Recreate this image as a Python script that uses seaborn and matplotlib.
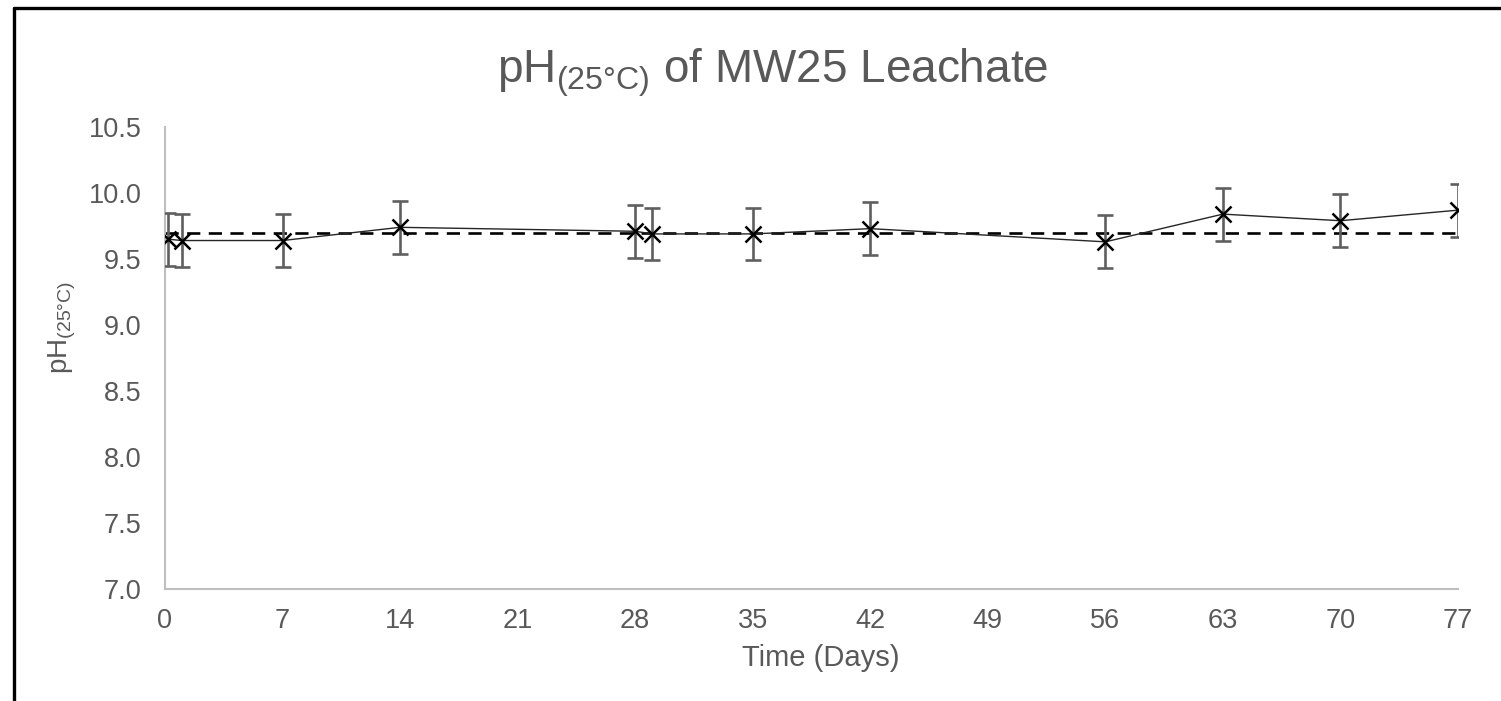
import matplotlib
matplotlib.use('Agg')
import matplotlib.pyplot as plt
import seaborn as sns
import pandas as pd
from matplotlib.lines import Line2D

# pH of MW25 leachate over time
days = [0.2, 1, 7, 14, 28, 29, 35, 42, 56, 63, 70, 77]
ph = [9.65, 9.64, 9.64, 9.74, 9.71, 9.69, 9.69, 9.73, 9.63, 9.84, 9.79, 9.87]
ph_err = [0.2] * 12
mean_ph = 9.70

x_ticks = list(range(0, 78, 7))
y_ticks = [7.0, 7.5, 8.0, 8.5, 9.0, 9.5, 10.0, 10.5]

df = pd.DataFrame({'day': days, 'ph': ph, 'err': ph_err})

sns.set_style('white')
plt.rcParams['font.family'] = ['Liberation Sans', 'DejaVu Sans']
plt.rcParams['mathtext.fontset'] = 'custom'
plt.rcParams['mathtext.rm'] = 'Liberation Sans'
plt.rcParams['mathtext.it'] = 'Liberation Sans:italic'
plt.rcParams['mathtext.default'] = 'regular'

grey = '#595959'

fig = plt.figure(figsize=(15.01, 7.01), dpi=100)
ax = fig.add_axes([165 / 1501, 1 - 589 / 701, 1293 / 1501, 462 / 701])

# 평균선
ax.axhline(mean_ph, color='black', lw=1.9, linestyle=(0, (5, 3.2)), zorder=2)

ax.errorbar(df['day'], df['ph'], yerr=df['err'], fmt='none', ecolor='#5f5f5f',
            elinewidth=1.9, capsize=6, capthick=1.9, zorder=3)

sns.lineplot(data=df, x='day', y='ph', ax=ax, color='#262626', lw=1.0,
             marker='x', markersize=11, markeredgewidth=1.8,
             markeredgecolor='black', zorder=4)

ax.set_xlim(0, 77)
ax.set_ylim(7.0, 10.5)
ax.set_xticks(x_ticks)
ax.set_yticks(y_ticks)
ax.set_yticklabels([f'{v:.1f}' for v in y_ticks])
ax.tick_params(axis='both', length=0, labelsize=19.5, labelcolor=grey)
ax.tick_params(axis='y', pad=17)
ax.tick_params(axis='x', pad=14)

for s in ['top', 'right']:
    ax.spines[s].set_visible(False)
for s in ['left', 'bottom']:
    ax.spines[s].set_color('#bfbfbf')
    ax.spines[s].set_linewidth(1.5)

ax.set_xlabel('Time (Days)', fontsize=21, color=grey)
ax.xaxis.set_label_coords(0.507, -0.118)
ax.set_ylabel(r'pH$_{(25°C)}$', fontsize=20, color=grey)
ax.yaxis.set_label_coords(-0.067, 0.565)

fig.text(0.515, 1 - 73 / 701, r'pH$_{(25°C)}$ of MW25 Leachate', fontsize=33,
         color=grey, ha='center', va='center')

# 바깥 테두리 (위, 왼쪽)
fig.add_artist(Line2D([13.5 / 1501, 1], [1 - 7.5 / 701, 1 - 7.5 / 701],
                      transform=fig.transFigure, color='black', lw=2.4))
fig.add_artist(Line2D([13.5 / 1501, 13.5 / 1501], [0, 1 - 7.5 / 701],
                      transform=fig.transFigure, color='black', lw=2.4))

fig.savefig('out.png', dpi=100)
